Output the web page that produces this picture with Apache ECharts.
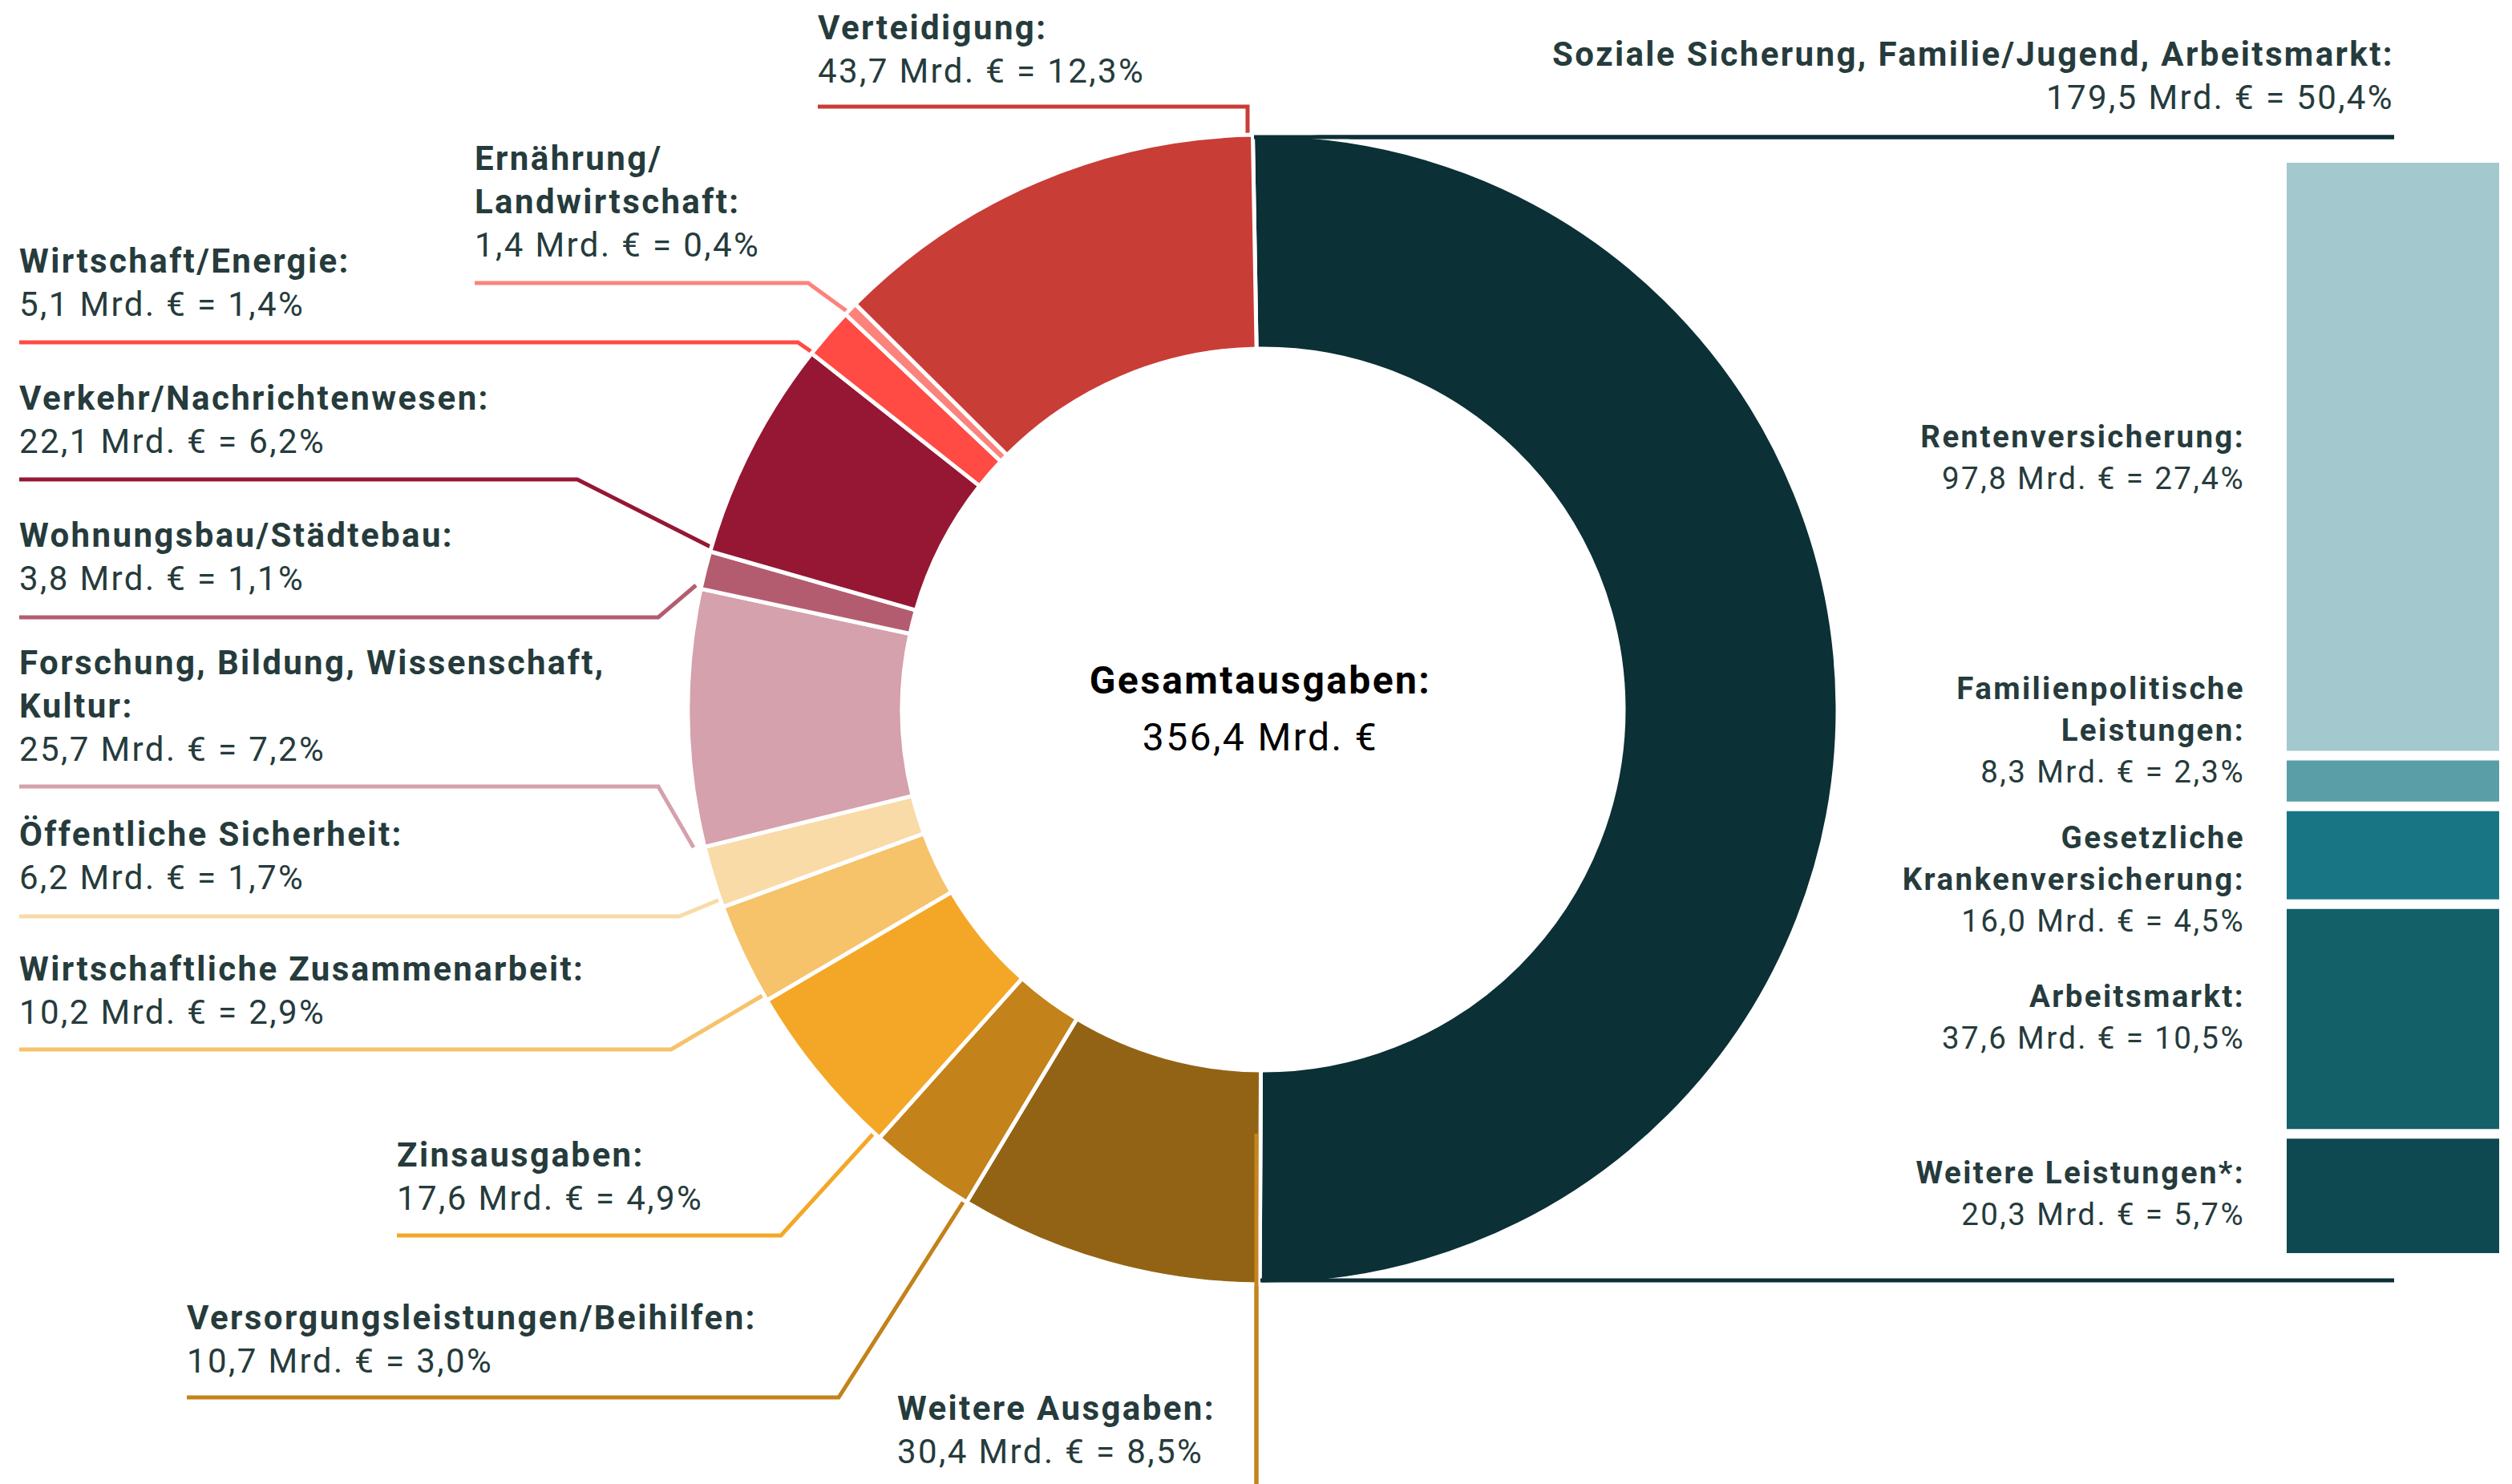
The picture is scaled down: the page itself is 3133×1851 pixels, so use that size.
<!DOCTYPE html>
<html>
<head>
<meta charset="utf-8">
<script src="https://cdn.jsdelivr.net/npm/echarts@6/dist/echarts.min.js"></script>
<style>
  html, body { margin: 0; padding: 0; background: #ffffff; }
  #chart { width: 3133px; height: 1851px; }
  #chart text { letter-spacing: 2.4px; }
</style>
</head>
<body>
<div id="chart"></div>
<script>
// ---------- data ----------
const categories = [
  'Soziale Sicherung, Familie/Jugend, Arbeitsmarkt:',
  'Weitere Ausgaben:',
  'Versorgungsleistungen/Beihilfen:',
  'Zinsausgaben:',
  'Wirtschaftliche Zusammenarbeit:',
  'Öffentliche Sicherheit:',
  'Forschung, Bildung, Wissenschaft,\nKultur:',
  'Wohnungsbau/Städtebau:',
  'Verkehr/Nachrichtenwesen:',
  'Wirtschaft/Energie:',
  'Ernährung/\nLandwirtschaft:',
  'Verteidigung:'
];
const values = [179.5, 30.4, 10.7, 17.6, 10.2, 6.2, 25.7, 3.8, 22.1, 5.1, 1.4, 43.7];
const shares = ['50,4', '8,5', '3,0', '4,9', '2,9', '1,7', '7,2', '1,1', '6,2', '1,4', '0,4', '12,3'];

const subCategories = [
  'Rentenversicherung:',
  'Familienpolitische\nLeistungen:',
  'Gesetzliche\nKrankenversicherung:',
  'Arbeitsmarkt:',
  'Weitere Leistungen*:'
];
const subValues = [97.8, 8.3, 16.0, 37.6, 20.3];
const subShares = ['27,4', '2,3', '4,5', '10,5', '5,7'];

const totalLabel = 'Gesamtausgaben:';

// ---------- styles / layout ----------
const pieColors = ['#0b3036', '#936315', '#c3821a', '#f4a726', '#f6c26a', '#f9dba7',
                   '#d5a1ac', '#b35c70', '#951734', '#ff4b44', '#fb837c', '#c93d37'];
const lineColors = ['#0b3036', '#c5841f', '#c3821a', '#f4a726', '#f6c26a', '#f9dba7',
                    '#d5a1ac', '#b35c70', '#951734', '#ff4b44', '#fb837c', '#c93d37'];
const subColors = ['#a3c8cd', '#5a9ea7', '#187684', '#136069', '#0e4850'];
const TEXT = '#263b3c';

// label anchors (top-left / top-right of text block) and leader line paths
const pieLabelLayout = [
  { x: 2986, y: 40,   align: 'right', line: [[1566, 171], [2986, 171], [2986, 171]] },
  { x: 1119, y: 1729, align: 'left',  line: [[1567, 1414], [1567, 1851], [1567, 1851]] },
  { x: 233,  y: 1616, align: 'left',  line: [[1204, 1495], [1046, 1743], [233, 1743]] },
  { x: 495,  y: 1413, align: 'left',  line: [[1092, 1411], [974, 1541], [495, 1541]] },
  { x: 24,   y: 1181, align: 'left',  line: [[954, 1240], [837, 1309], [24, 1309]] },
  { x: 24,   y: 1013, align: 'left',  line: [[898, 1122], [847, 1143], [24, 1143]] },
  { x: 24,   y: 799,  align: 'left',  line: [[865, 1057], [821, 981], [24, 981]] },
  { x: 24,   y: 640,  align: 'left',  line: [[868, 730], [821, 770], [24, 770]] },
  { x: 24,   y: 469,  align: 'left',  line: [[886, 682], [720, 598], [24, 598]] },
  { x: 24,   y: 298,  align: 'left',  line: [[1014, 440], [995, 427], [24, 427]] },
  { x: 592,  y: 170,  align: 'left',  line: [[1056, 388], [1008, 353], [592, 353]] },
  { x: 1020, y: 7,    align: 'left',  line: [[1556, 172], [1556, 133], [1020, 133]] }
];
const subLabelY = [518, 832, 1018, 1216, 1436];

function fmt(v) { return v.toFixed(1).replace('.', ','); }
function richLabel(name, v, share) {
  const lines = name.split('\n').map(function (l) { return '{n|' + l + '}'; });
  lines.push('{v|' + fmt(v) + ' Mrd. € = ' + share + '%}');
  return lines.join('\n');
}
function makeRich(fs, lh) {
  return {
    n: { fontFamily: 'Roboto', fontWeight: 'bold', fontSize: fs, lineHeight: lh, color: TEXT },
    v: { fontFamily: 'Roboto', fontWeight: 'normal', fontSize: fs, lineHeight: lh, color: TEXT }
  };
}
const pieRich = makeRich(42, 54);
const barRich = makeRich(38.5, 52);

const total = values.reduce(function (a, b) { return a + b; }, 0);
const subTotal = subValues.reduce(function (a, b) { return a + b; }, 0);

const pieData = categories.map(function (c, i) {
  return {
    name: c,
    value: values[i],
    itemStyle: { color: pieColors[i] },
    labelLine: { lineStyle: { color: lineColors[i], width: 5 } },
    label: { formatter: richLabel(c, values[i], shares[i]) }
  };
});

const barSeries = subCategories.map(function (c, i) {
  return {
    type: 'bar',
    name: c,
    stack: 'soz',
    barWidth: '100%',
    silent: true,
    itemStyle: { color: subColors[i], borderColor: '#ffffff', borderWidth: 6 },
    label: {
      show: true,
      formatter: richLabel(c, subValues[i], subShares[i]),
      rich: barRich
    },
    labelLayout: function () {
      return { x: 2800, y: subLabelY[i], align: 'right', verticalAlign: 'top' };
    },
    data: [subValues[i]]
  };
});

const chart = echarts.init(document.getElementById('chart'), null, { renderer: 'svg' });
chart.setOption({
  animation: false,
  backgroundColor: '#ffffff',
  grid: { left: 2846, top: 197, width: 277, height: 1372 },
  xAxis: { type: 'category', data: ['Soziale Sicherung'], show: false },
  yAxis: { type: 'value', inverse: true, min: 0, max: subTotal, show: false },
  graphic: [
    {
      type: 'line',
      shape: { x1: 1564, y1: 171, x2: 2986, y2: 171 },
      style: { stroke: '#0b3036', lineWidth: 5 },
      z: 10
    },
    {
      type: 'line',
      shape: { x1: 1572, y1: 1597, x2: 2986, y2: 1597 },
      style: { stroke: '#0b3036', lineWidth: 5 },
      z: 10
    },
    {
      type: 'line',
      shape: { x1: 1567, y1: 1414, x2: 1567, y2: 1851 },
      style: { stroke: lineColors[1], lineWidth: 5 },
      z: 10
    },
    {
      type: 'text',
      x: 1572, y: 884,
      style: {
        text: '{a|' + totalLabel + '}\n{b|' + fmt(total) + ' Mrd. €}',
        align: 'center', verticalAlign: 'middle',
        rich: {
          a: { fontFamily: 'Roboto', fontWeight: 'bold', fontSize: 48, lineHeight: 71, color: TEXT, align: 'center' },
          b: { fontFamily: 'Roboto', fontSize: 48, lineHeight: 71, color: TEXT, align: 'center' }
        }
      },
      z: 10
    }
  ],
  series: [
    {
      type: 'pie',
      silent: true,
      center: [1575, 885],
      radius: [450, 717],
      startAngle: 91,
      clockwise: true,
      avoidLabelOverlap: false,
      itemStyle: { borderColor: '#ffffff', borderWidth: 5 },
      label: { show: true, position: 'outside', rich: pieRich },
      labelLine: { show: true, length: 10, length2: 10, lineStyle: { width: 5 } },
      labelLayout: function (params) {
        const L = pieLabelLayout[params.dataIndex];
        return {
          x: L.x, y: L.y, align: L.align, verticalAlign: 'top',
          labelLinePoints: L.line
        };
      },
      data: pieData
    }
  ].concat(barSeries)
});
</script>
</body>
</html>
